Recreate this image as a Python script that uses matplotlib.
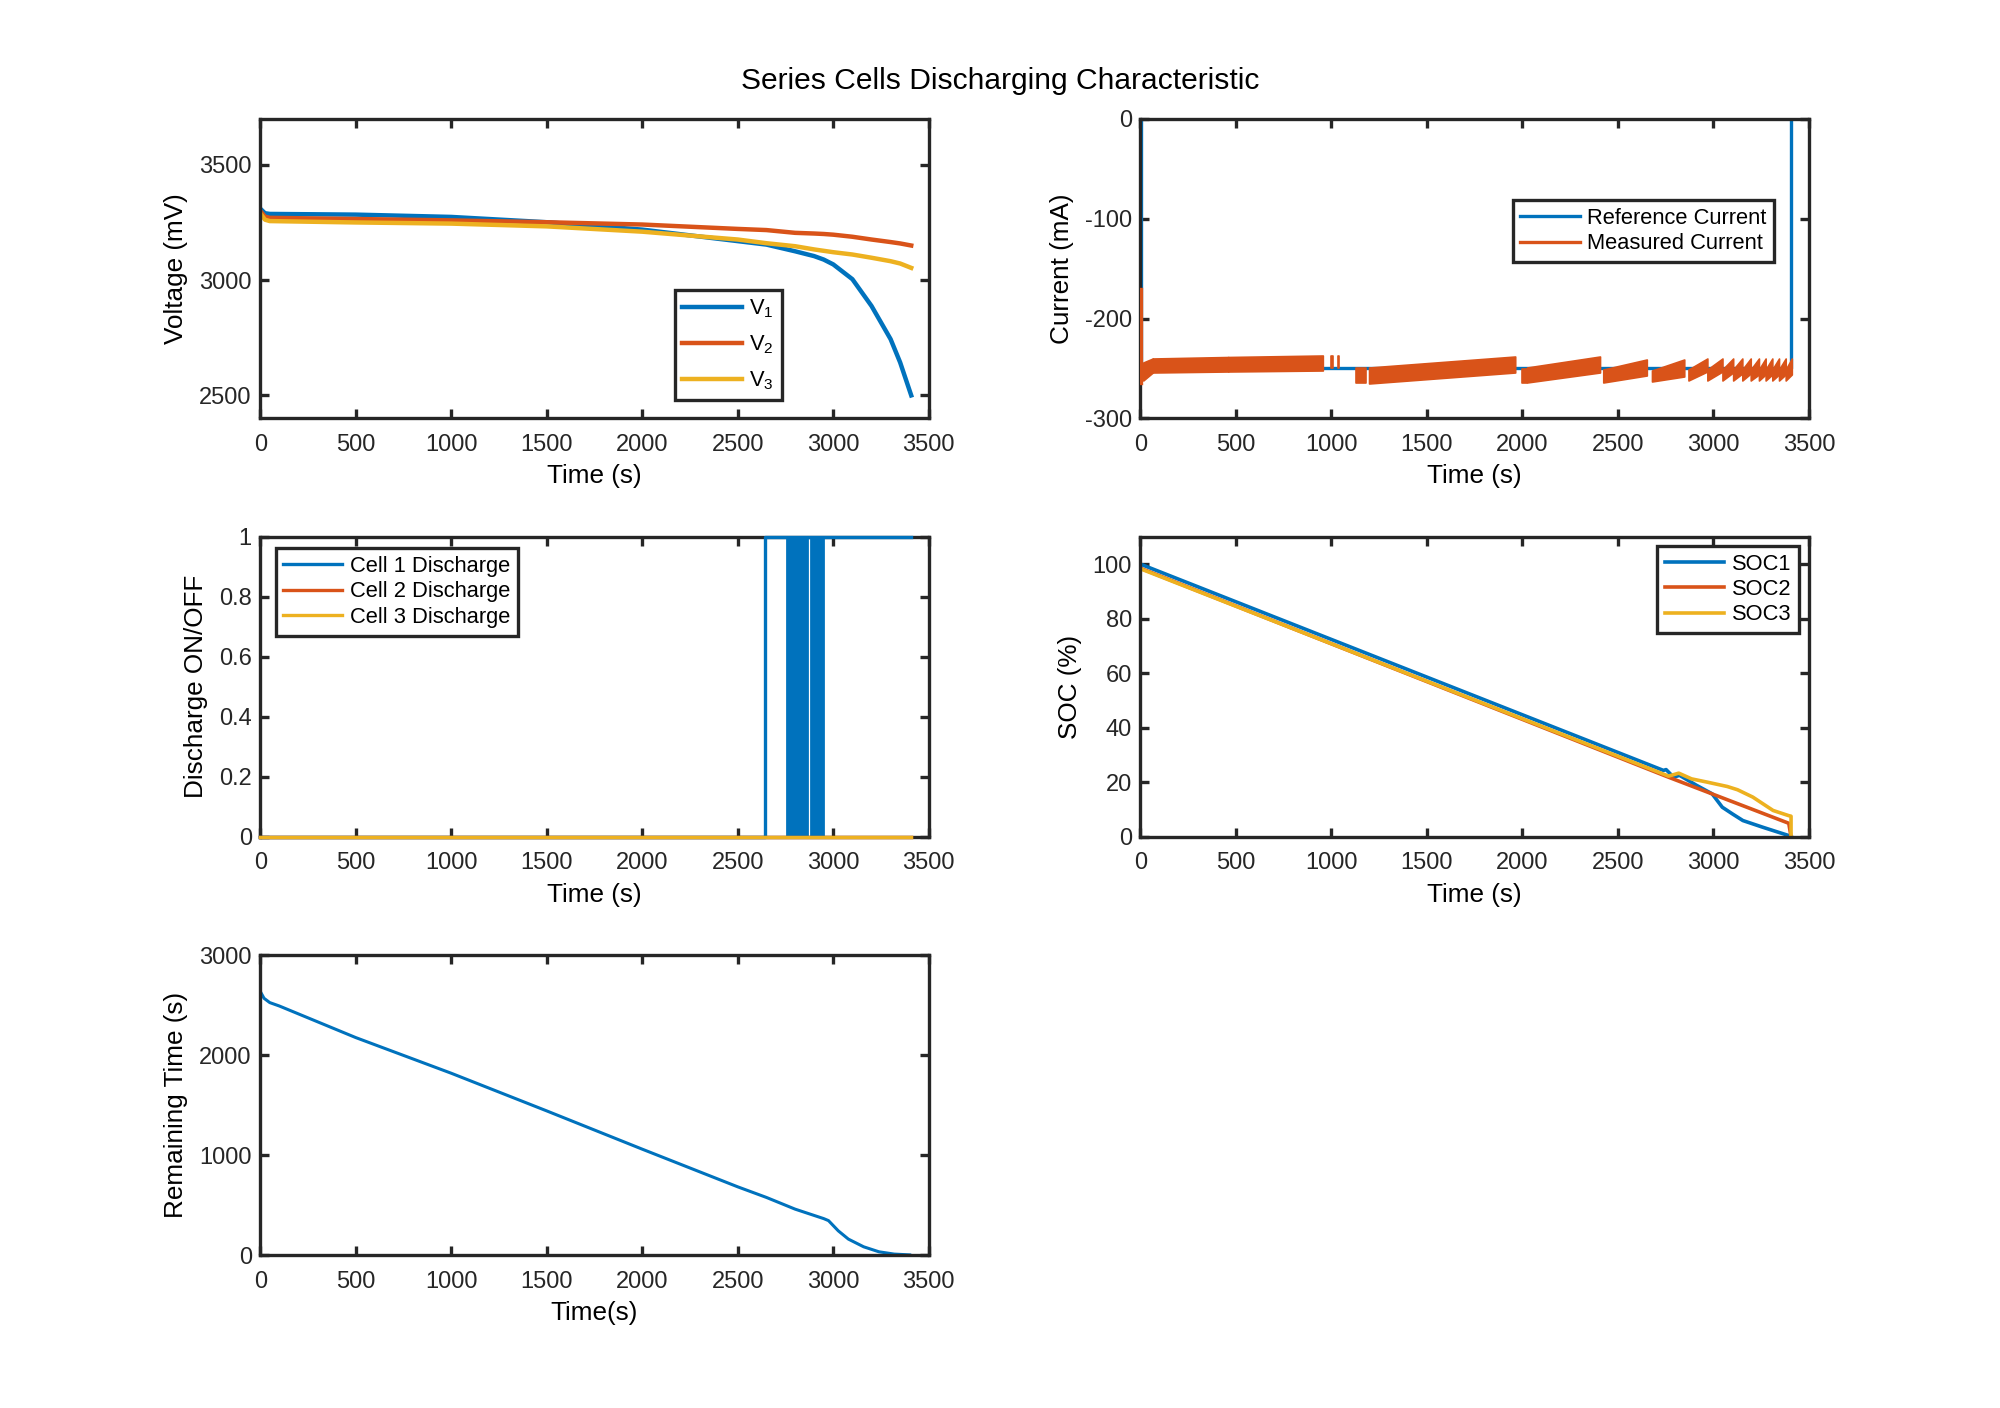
import numpy as np
import matplotlib
matplotlib.use('Agg')
import matplotlib.pyplot as plt
from matplotlib.lines import Line2D
from matplotlib.ticker import FuncFormatter

plt.rcParams['font.family'] = ['Liberation Sans', 'DejaVu Sans']
plt.rcParams['mathtext.default'] = 'regular'
plt.rcParams['axes.unicode_minus'] = False

BLUE = '#0072BD'
ORANGE = '#D95319'
YELLOW = '#EDB120'
AXC = '#262626'

# ---------------- data ----------------
x_ticks = [0, 500, 1000, 1500, 2000, 2500, 3000, 3500]

# Panel 1: cell voltages (mV)
t_v = [0, 25, 50, 500, 1000, 1500, 2000, 2500, 2650, 2800, 2900, 2950, 3000, 3100, 3200, 3300, 3350, 3408]
v1 = [3310, 3290, 3287, 3284, 3274, 3251, 3219, 3169, 3154, 3125, 3104, 3089, 3068, 3004, 2888, 2744, 2643, 2500]
v2 = [3300, 3275, 3270, 3265, 3259, 3251, 3241, 3222, 3217, 3205, 3202, 3200, 3197, 3188, 3176, 3165, 3159, 3150]
v3 = [3290, 3262, 3256, 3250, 3245, 3233, 3210, 3176, 3160, 3147, 3133, 3127, 3121, 3111, 3097, 3082, 3072, 3053]

# Panel 2: currents (mA)
t_ref = [3, 3, 3406, 3406]
i_ref = [0, -250, -250, 0]
t_meas_start = [3, 3]
i_meas_start = [-170, -265]
# measured current noise band, per segment: start/end time, lower/upper envelope
seg_t0 = [15, 65, 460, 1000, 1032, 1131, 1197, 2000, 2024, 2423, 2678,
          2869, 2968, 3047, 3103, 3151, 3195, 3238, 3273, 3308, 3343, 3378]
seg_t1 = [65, 460, 955, 1010, 1040, 1183, 1962, 2024, 2406, 2651, 2847,
          2968, 3047, 3103, 3151, 3195, 3238, 3273, 3308, 3343, 3378, 3410]
seg_lo0 = [-262, -254, -253, -250, -250, -265, -265, -265, -264, -264, -263,
           -262, -262, -262, -262, -262, -262, -262, -262, -262, -262, -262]
seg_lo1 = [-254, -253, -252, -250, -250, -265, -254, -265, -254, -257, -258,
           -253, -253, -254, -255, -255, -256, -256, -256, -256, -256, -256]
seg_hi0 = [-244, -240, -238.5, -237, -237, -250, -249, -251, -249, -251, -252,
           -251, -251, -251, -251, -251, -251, -251, -251, -251, -251, -251]
seg_hi1 = [-240, -238.5, -237, -237, -237, -250, -238, -251, -238, -241, -241,
           -240, -240, -240, -240, -240, -240, -240, -240, -240, -240, -240]

# Panel 3: discharge switches
t_sw1 = [0, 2640, 2640, 3408]
sw1 = [0, 0, 1, 1]
sw1_block_start = [2760, 2884]
sw1_block_end = [2865, 2944]
t_sw23 = [0, 3408]
sw2 = [0, 0]
sw3 = [0, 0]

# Panel 4: SOC (%)
t_soc1 = [0, 2738, 2752, 2791, 2822, 2912, 2993, 3046, 3100, 3154, 3260, 3340, 3394, 3406]
soc1 = [100, 24.3, 24.6, 21.8, 22.5, 18.8, 15.7, 10.8, 8.3, 5.9, 3.4, 1.6, 0.4, 0]
t_soc2 = [0, 2765, 3394, 3406]
soc2 = [98.5, 21.8, 4.9, 0]
t_soc3 = [0, 2765, 2818, 2885, 2967, 3072, 3126, 3206, 3260, 3312, 3394, 3406, 3406]
soc3 = [98.3, 22.2, 23.3, 21.2, 20.0, 18.4, 17.2, 14.5, 12.0, 9.6, 7.7, 7.5, 0]

# Panel 5: remaining time (s)
t_rt = [0, 20, 50, 100, 500, 1000, 1500, 2000, 2500, 2650, 2800, 2950, 2975, 3026, 3079, 3159, 3239, 3319, 3400]
rt = [2640, 2570, 2527, 2493, 2177, 1820, 1443, 1060, 683, 577, 460, 365, 345, 243, 160, 83, 33, 10, 2]

# ---------------- figure ----------------
fig = plt.figure(figsize=(10, 7.04), dpi=200)
L1, L2, W, H = 0.1301, 0.5702, 0.3343, 0.2129
B1, B2, B3 = 0.7028, 0.4058, 0.1086

def style(ax):
    for s in ax.spines.values():
        s.set_linewidth(1.2)
        s.set_color(AXC)
    ax.tick_params(direction='in', length=3.2, width=1.2, color=AXC, labelcolor=AXC,
                   labelsize=8.5, top=True, right=True)
    ax.tick_params(axis='x', pad=5.6)
    ax.tick_params(axis='y', pad=3)
    ax.set_xlim(0, 3500)
    ax.set_xticks(x_ticks)

def xlab(ax, s):
    ax.set_xlabel(s, fontsize=9.4, color='black', labelpad=3)

def ylab(ax, s):
    ax.set_ylabel(s, fontsize=9.4, color='black', labelpad=4)

def leg(ax, handles, labels, loc, anchor, spacing=0.2):
    lg = ax.legend(handles, labels, loc=loc, bbox_to_anchor=anchor, borderaxespad=0,
                   fontsize=7.9, fancybox=False, framealpha=1, edgecolor=AXC,
                   handlelength=2.7, handletextpad=0.35, labelspacing=spacing,
                   borderpad=0.35)
    lg.get_frame().set_linewidth(1.2)
    for t in lg.get_texts():
        t.set_color('black')
    return lg

# Panel 1
ax1 = fig.add_axes([L1, B1, W, H])
style(ax1)
l1, = ax1.plot(t_v, v1, color=BLUE, lw=1.6)
l2, = ax1.plot(t_v, v2, color=ORANGE, lw=1.6)
l3, = ax1.plot(t_v, v3, color=YELLOW, lw=1.6)
ax1.set_ylim(2400, 3700)
ax1.set_yticks([2500, 3000, 3500])
xlab(ax1, 'Time (s)')
ylab(ax1, 'Voltage (mV)')
leg(ax1, [l1, l2, l3], ['V$_1$', 'V$_2$', 'V$_3$'], 'upper left', (0.620, 0.430), spacing=0.62)

# Panel 2
ax2 = fig.add_axes([L2, B1, W, H])
style(ax2)
lr, = ax2.plot(t_ref, i_ref, color=BLUE, lw=1.2, zorder=2)
lm, = ax2.plot(t_meas_start, i_meas_start, color=ORANGE, lw=1.2, zorder=3)
for a, b, lo0, lo1, hi0, hi1 in zip(seg_t0, seg_t1, seg_lo0, seg_lo1, seg_hi0, seg_hi1):
    ax2.fill_between([a, b], [lo0, lo1], [hi0, hi1], color=ORANGE, lw=0.6,
                     edgecolor=ORANGE, zorder=3)
ax2.set_ylim(-300, 0)
ax2.set_yticks([-300, -200, -100, 0])
xlab(ax2, 'Time (s)')
ylab(ax2, 'Current (mA)')
leg(ax2, [lr, lm], ['Reference Current', 'Measured Current'], 'upper left', (0.557, 0.7275))

# Panel 3
ax3 = fig.add_axes([L1, B2, W, H])
style(ax3)
s1, = ax3.plot(t_sw1, sw1, color=BLUE, lw=1.2, clip_on=False, zorder=3)
for a, b in zip(sw1_block_start, sw1_block_end):
    ax3.fill_between([a, b], [0, 0], [1, 1], color=BLUE, lw=1.0, edgecolor=BLUE, zorder=3)
s2, = ax3.plot(t_sw23, sw2, color=ORANGE, lw=1.2, clip_on=False, zorder=3)
s3, = ax3.plot(t_sw23, sw3, color=YELLOW, lw=1.2, clip_on=False, zorder=3)
ax3.set_ylim(0, 1)
ax3.set_yticks([0, 0.2, 0.4, 0.6, 0.8, 1])
ax3.yaxis.set_major_formatter(FuncFormatter(lambda v, p: '%g' % v))
xlab(ax3, 'Time (s)')
ylab(ax3, 'Discharge ON/OFF')
leg(ax3, [s1, s2, s3], ['Cell 1 Discharge', 'Cell 2 Discharge', 'Cell 3 Discharge'],
    'upper left', (0.0229, 0.9616))

# Panel 4
ax4 = fig.add_axes([L2, B2, W, H])
style(ax4)
c1, = ax4.plot(t_soc1, soc1, color=BLUE, lw=1.3)
c2, = ax4.plot(t_soc2, soc2, color=ORANGE, lw=1.3)
c3, = ax4.plot(t_soc3, soc3, color=YELLOW, lw=1.3)
ax4.set_ylim(0, 110)
ax4.set_yticks([0, 20, 40, 60, 80, 100])
xlab(ax4, 'Time (s)')
ylab(ax4, 'SOC (%)')
leg(ax4, [c1, c2, c3], ['SOC1', 'SOC2', 'SOC3'], 'upper right', (0.9847, 0.970))

# Panel 5
ax5 = fig.add_axes([L1, B3, W, H])
style(ax5)
ax5.plot(t_rt, rt, color=BLUE, lw=1.1)
ax5.set_ylim(0, 3000)
ax5.set_yticks([0, 1000, 2000, 3000])
xlab(ax5, 'Time(s)')
ylab(ax5, 'Remaining Time (s)')

fig.text(0.5, 0.9428, 'Series Cells Discharging Characteristic', ha='center', va='center',
         fontsize=10.8, color='black')

fig.savefig('out.png', dpi=200, facecolor='white')
